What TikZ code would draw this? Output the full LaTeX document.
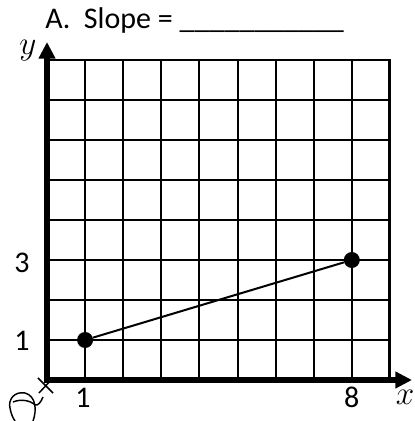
\documentclass[tikz,border=0pt]{standalone}
\usepackage{fontspec}
\setmainfont{Carlito}
\usetikzlibrary{arrows.meta, positioning}

\begin{document}
\begin{tikzpicture}[
    x=28.575pt, y=30pt,
    gridline/.style={line width=1.5pt},
    frame/.style={line width=2.2pt},
    axis/.style={line width=4.5pt, -{Triangle[length=12.5pt, width=12pt]}},
    dot/.style={circle, fill, inner sep=0pt, minimum size=12pt},
    lbl/.style={font=\fontsize{22.5}{26}\selectfont, inner sep=0pt},
    var/.style={font=\fontsize{23}{26}\selectfont, inner sep=0pt}
]
\useasboundingbox (-35.25pt,-30.75pt) rectangle (275.25pt,285pt);

% Grid
\foreach \i in {1,...,8}
    \draw[gridline] (\i,0) -- (\i,8);
\foreach \j in {1,...,7}
    \draw[gridline] (0,\j) -- (9,\j);
\draw[frame] (0,8) -- (9,8) -- (9,0);

% Axes
\coordinate (O) at (0,0);
\coordinate (ytip) at (0,8.45);
\coordinate (xtip) at (9.58,0);
\draw[axis] (0,-0.075) -- (ytip);
\draw[axis] (-0.08,0) -- (xtip);

% Points
\node[dot] (p1) at (1,1) {};
\node[dot] (p8) at (8,3) {};
\draw[gridline] (p1) -- (p8);

% Labels
\node[lbl, anchor=base west] (title) at (-1.5pt,263.25pt) {A.\ \ Slope = \_\_\_\_\_\_\_\_\_\_\_};
\node[var] (ylab) at (-0.5,8.225) {$y$};
\node[var] (xlab) at (9.40,-0.425) {$x$};
\node[lbl] (t3) at (-0.656,2.925) {3};
\node[lbl] (t1) at (-0.656,0.975) {1};
\node[lbl] (b1) at (0.945,-0.45) {1};
\node[lbl] (b8) at (8,-0.425) {8};

% Origin mark (hand drawn)
\begin{scope}[shift={(-35.25pt,285pt)}, x=0.75pt, y=-0.75pt]
\draw[line width=1.1pt] (38,378) -- (53,393) (39,393) -- (52,379);
\draw[line width=1.1pt] (33,421) .. controls (37,410) and (36,396) .. (25,393)
    .. controls (14,391) and (8,400) .. (10,408)
    .. controls (11,414) and (13,418) .. (15,421);
\draw[line width=1.1pt] (13,402) .. controls (20,399) and (30,400) .. (35,405)
    .. controls (38,406) and (41,402) .. (43,397);
\end{scope}

\end{tikzpicture}
\end{document}
